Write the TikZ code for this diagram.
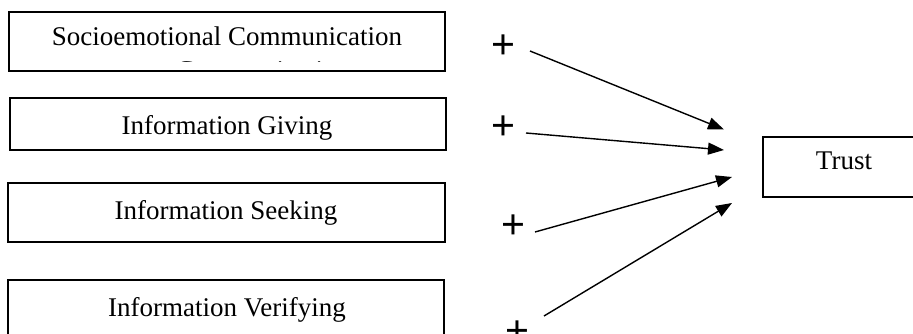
\documentclass[tikz,border=0pt]{standalone}
\usepackage{fontspec}
\setmainfont{Liberation Serif}
\newfontfamily\plusfont{Liberation Sans}
\usetikzlibrary{arrows.meta}
\begin{document}
\begin{tikzpicture}[x=1pt,y=-1pt,
  boxline/.style={draw=black,line width=1.2pt},
  boxtext/.style={anchor=base,inner sep=0pt,font=\fontsize{27}{32}\selectfont},
  plustext/.style={anchor=base,inner sep=0pt,font=\plusfont\fontsize{41}{44}\selectfont},
  conn/.style={line width=1.4pt,-{Triangle[length=16pt,width=12pt]}}]
\useasboundingbox (0,0) rectangle (913,334);
\clip (0,0) rectangle (913,334);
% boxes
\draw[boxline] (9,12) rectangle (445,71);
\draw[boxline] (10,98) rectangle (446,150);
\draw[boxline] (8,183) rectangle (445,242);
\draw[boxline] (8,280) rectangle (444,345);
\draw[boxline] (763,137) rectangle (930,197);
% texts
\node[boxtext] (soc) at (227,46) {Socioemotional Communication};
\begin{scope}
  \clip (12,52) rectangle (442,61.2);
  \node[boxtext,anchor=base west] (soc2) at (176,79.5) {Communication};
\end{scope}
\node[boxtext] (giv) at (227,135) {Information Giving};
\node[boxtext] (see) at (226,219) {Information Seeking};
\node[boxtext] (ver) at (227,316) {Information Verifying};
\node[boxtext] (tru) at (844,170) {Trust};
% plus signs
\node[plustext] (p1) at (503,59) {+};
\node[plustext] (p2) at (503,140) {+};
\node[plustext] (p3) at (513,238) {+};
\node[plustext] (p4) at (517,344) {+};
% arrows
\coordinate (s1) at (530,51);
\coordinate (e1) at (724,129.5);
\coordinate (s2) at (526,133);
\coordinate (e2) at (724,150);
\coordinate (s3) at (535,232);
\coordinate (e3) at (732,177);
\coordinate (s4) at (544,316);
\coordinate (e4) at (732,203);
\draw[conn] (s1) -- (e1);
\draw[conn] (s2) -- (e2);
\draw[conn] (s3) -- (e3);
\draw[conn] (s4) -- (e4);
\end{tikzpicture}
\end{document}
